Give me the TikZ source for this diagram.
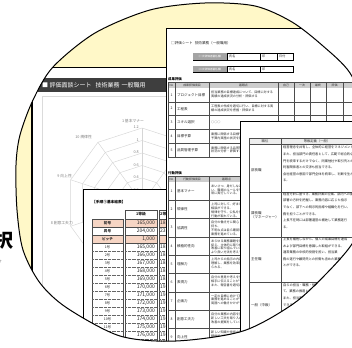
\documentclass[tikz,border=0pt]{standalone}
\usepackage{fontspec}
\setmainfont{Noto Sans CJK JP}
\definecolor{bgyellow}{HTML}{FFF8C8}
\definecolor{peach}{HTML}{F6D5C4}
\definecolor{hdrdark}{HTML}{3E3E3E}
\definecolor{thgray}{HTML}{CDCDCD}
\definecolor{lblgray}{HTML}{A4A4A4}
\begin{document}
\begin{tikzpicture}[x=1pt,y=-1pt,
  sheet/.style={draw=black,line width=0.8pt,fill=white},
  grid/.style={draw=black!70,line width=0.35pt},
  tx/.style={font=\fontsize{3.1}{3.8}\selectfont,inner sep=0pt,align=left,anchor=north west,text=black!85},
  txd/.style={font=\fontsize{3.2}{6.6}\selectfont,inner sep=0pt,align=left,anchor=north west,text=black!90},
  lb/.style={font=\fontsize{3.5}{4.2}\selectfont,inner sep=0pt,text=black!85},
  hd/.style={font=\fontsize{2.9}{3.4}\selectfont,inner sep=0pt,text=black!80},
  rl/.style={font=\fontsize{3.8}{4.5}\selectfont,inner sep=0pt,text=black!50},
  num/.style={font=\fontsize{5}{6}\selectfont,inner sep=0pt,anchor=east,text=black!85},
  radargrid/.style={draw=black!16,line width=0.45pt}]
\useasboundingbox (0,0) rectangle (352,347);
\fill[white] (0,0) rectangle (352,347);
\node[font=\bfseries\fontsize{19}{19}\selectfont,anchor=east,inner sep=0pt] (kanji) at (13.5,240) {択};
\node[font=\fontsize{4}{4}\selectfont,anchor=east,inner sep=0pt,text=black!60] (note) at (2.2,262) {す};
\begin{scope}
\clip plot[smooth cycle] coordinates {(16,165) (20,135) (33,100) (53,67) (95,33) (150,10) (205,3) (255,6) (292,22) (323,46) (350,73) (368,115) (374,165) (368,210) (352,244) (326,274) (293,304) (243,331) (176,341) (120,336) (67,308) (40,283) (23,250) (17,210)};
\fill[bgyellow] (0,0) rectangle (352,347);
% ================= Doc A (radar sheet)
\path[sheet] (32,67) rectangle (300,420);
\draw[line width=1.4pt] (32,67) -- (32,420);
\fill[hdrdark] (38,78) rectangle (300,92);
\node[anchor=west,inner sep=0pt,text=white,font=\fontsize{6}{7}\selectfont] (titleA) at (42,85.3) {■ 評価面談シート\hspace{4pt}技術業務\hspace{2pt}一般職用};
\draw[black!14,line width=0.5pt] (42,96) rectangle (300,420);
\begin{scope}[shift={(142,203)},yscale=-1]
 \foreach \k in {1,...,6}{
   \pgfmathsetmacro\rr{12.5*\k}
   \draw[radargrid] (90:\rr) \foreach \a in {126,162,...,414}{ -- (\a:\rr)} -- cycle;
 }
 \foreach \a in {90,126,...,414}{ \draw[radargrid] (0,0) -- (\a:75); }
\end{scope}
\node[rl,anchor=east] (r12) at (139,127) {1.2};
\node[rl,anchor=east] (r10) at (139,140) {1};
\node[rl,anchor=east] (r08) at (139,152.5) {0.8};
\node[rl,anchor=east] (r06) at (139,165) {0.6};
\node[rl,anchor=east] (r04) at (139,177.5) {0.4};
\node[rl,anchor=east] (r02) at (139,190) {0.2};
\node[rl] (ax1) at (133,121) {1 基本マナー};
\node[rl,anchor=east] (ax10) at (92,137.5) {10 規律性};
\node[rl,anchor=east] (ax9) at (72,176) {9 向上性};
\node[rl,anchor=east] (ax8) at (73,223.5) {8 創意工夫力};
% ================= Doc C (salary table)
\path[sheet] (83,189) rectangle (230,420);
\begin{scope}
\clip (83,189) rectangle (166,420);
\node[anchor=west,inner sep=0pt,font=\bfseries\fontsize{3.7}{4}\selectfont] (titleC) at (92,202) {【手順①基本給表】};
\draw[grid] (125,210) rectangle (157,219);
\draw[grid] (159,210) rectangle (191,219);
\node[lb,font=\bfseries\fontsize{3.8}{4}\selectfont] (g1) at (141,214.5) {1等級};
\node[lb,font=\bfseries\fontsize{3.8}{4}\selectfont,anchor=west] (g2) at (160,214.5) {2等};
\foreach \y in {219,235}{
  \fill[peach] (92,\y) rectangle (123,\y+8);
  \fill[peach] (125,\y) rectangle (157,\y+8);
  \fill[peach] (159,\y) rectangle (191,\y+8);
}
\foreach \y in {219,227,235}{
  \draw[grid] (92,\y) rectangle (123,\y+8);
  \draw[grid] (125,\y) rectangle (157,\y+8);
  \draw[grid] (159,\y) rectangle (191,\y+8);
}
\node[lb,font=\bfseries\fontsize{3.6}{4}\selectfont] (h1) at (107.5,223) {初号};
\node[lb,font=\bfseries\fontsize{3.6}{4}\selectfont] (h2) at (107.5,231) {昇号};
\node[lb,font=\bfseries\fontsize{3.6}{4}\selectfont] (h3) at (107.5,239) {ピッチ};
\node[num] (h1a) at (155,223) {165,000};
\node[num] (h2a) at (155,231) {204,000};
\node[num] (h3a) at (155,239) {1,000};
\node[num,anchor=west] (h1b) at (160,223) {18};
\node[num,anchor=west] (h2b) at (160,231) {23};
\draw[grid] (92,243) rectangle (123,360);
\draw[grid] (125,243) rectangle (157,360);
\draw[grid] (159,243) rectangle (191,360);
\foreach \k in {1,...,13}{
  \draw[black!60,line width=0.3pt,densely dotted] (92,243+8*\k) -- (123,243+8*\k) (125,243+8*\k) -- (157,243+8*\k) (159,243+8*\k) -- (191,243+8*\k);
  \pgfmathtruncatemacro\va{164+\k}
  \pgfmathtruncatemacro\vb{(184+\k)/10}
  \node[lb] (lab\k) at (107.5,239+8*\k) {\k 号};
  \node[num] (na\k) at (155,239+8*\k) {\va,000};
  \node[num,anchor=west] (nb\k) at (160,239+8*\k) {\vb};
}
\end{scope}
% ================= Doc B (evaluation sheet)
\path[sheet] (166,28) rectangle (420,420);
\node[anchor=west,inner sep=0pt,font=\fontsize{3.6}{4}\selectfont,text=black!85] (titleB) at (171,43) {□評価シート\hspace{2pt}技術業務（一般職用）};
\draw[line width=0.6pt,fill=white] (193,53) rectangle (293,60);
\fill[lblgray] (193.3,53.3) rectangle (227,59.7);
\draw[line width=0.4pt] (227,53) -- (227,60) (260,53) -- (260,60) (277,53) -- (277,60);
\node[font=\fontsize{2.6}{3}\selectfont,inner sep=0pt,text=white] (s1) at (210,56.5) {（一次評価者署名欄）};
\node[tx,anchor=west] (s1a) at (229,56.5) {氏名};
\node[tx,anchor=west] (s1b) at (262,56.5) {印};
\node[tx,anchor=west] (s1c) at (279,56.5) {日付};
\draw[line width=0.6pt,fill=white] (193,66) rectangle (293,72.5);
\fill[lblgray] (193.3,66.3) rectangle (227,72.2);
\draw[line width=0.4pt] (227,66) -- (227,72.5) (260,66) -- (260,72.5);
\node[font=\fontsize{2.6}{3}\selectfont,inner sep=0pt,text=white] (s2) at (210,69.3) {（二次評価者署名欄）};
\node[tx,anchor=west] (s2a) at (229,69.3) {氏名};
\node[tx,anchor=west] (s2b) at (262,69.3) {印};
% table 1
\node[anchor=west,inner sep=0pt,font=\bfseries\fontsize{3.4}{4}\selectfont] (sec1) at (168,79) {成果評価};
\fill[thgray] (168,82) rectangle (420,88);
\draw[grid] (168,82) rectangle (420,157);
\foreach \x in {175,209,278,294,310,326,343,360}{ \draw[grid] (\x,82) -- (\x,157); }
\foreach \i in {1,...,4}{ \draw[grid] (168,88+13.8*\i) -- (420,88+13.8*\i); }
\node[hd] (t1h0) at (171.5,85) {No};
\node[hd] (t1h1) at (192,85) {成果評価項目};
\node[hd] (t1h2) at (243.5,85) {着眼点};
\node[hd] (t1h3) at (286,85) {自己};
\node[hd] (t1h4) at (302,85) {一次};
\node[hd] (t1h5) at (318,85) {最終};
\node[hd] (t1h6) at (334.5,85) {評価};
\foreach \i/\lab in {1/プロジェクト目標,2/工程表,3/スキル選択,4/目標予算,5/品質管理予算}{
  \node[lb] (t1n\i) at (171.5,88+13.8*\i-6.9) {\i};
  \node[lb,anchor=west] (t1l\i) at (177,88+13.8*\i-6.9) {\lab};
}
\node[tx] (t1d1) at (211,91) {担当業務の目標達成について、目標に対する\\実績の達成状況の分析・評価する};
\node[tx] (t1d2) at (211,104.8) {工程表の作成を適切に行い、目標に対する実\\績の達成状況を把握・評価する};
\node[tx] (t1d3) at (211,120.5) {○○○};
\begin{scope}
\clip (209,121) rectangle (240,160);
\node[tx] (t1d4) at (211,132.4) {業務に関係する目標予算の達成状況\\予算内実施の状況を評価する};
\node[tx] (t1d5) at (211,146.2) {業務に関係する品質管理の達成\\状況の分析・評価する};
\end{scope}
% table 2
\node[anchor=west,inner sep=0pt,font=\bfseries\fontsize{3.4}{4}\selectfont] (sec2) at (168,173) {行動評価};
\fill[thgray] (168,176) rectangle (420,182);
\draw[grid] (168,176) rectangle (420,360);
\foreach \x in {175,209,260}{ \draw[grid] (\x,176) -- (\x,360); }
\foreach \i in {1,...,9}{ \draw[grid] (168,182+18.3*\i) -- (420,182+18.3*\i); }
\node[hd] (t2h0) at (171.5,179) {No};
\node[hd] (t2h1) at (192,179) {行動評価項目};
\node[hd,anchor=west] (t2h2) at (222,179) {着眼点};
\foreach \i/\lab in {1/基本マナー,2/規律性,3/協調性,4/積極的性向,5/理解力,6/表現力,7/企画力,8/創意工夫力,9/向上性}{
  \node[lb] (t2n\i) at (171.5,182+18.3*\i-9.15) {\i};
  \node[lb,anchor=west] (t2l\i) at (177,182+18.3*\i-9.15) {\lab};
}
\begin{scope}
\clip (209,176) rectangle (240,360);
\node[tx] (t2d1) at (211,184.5) {あいさつ、身だしなみ、言葉遣\\い、職場のルールを守ることを\\常に実行している。};
\node[tx] (t2d2) at (211,202.8) {上司に対して、好ましい報告・連絡\\相談ができる。\\規律を守り、公私を分けた\\行動が取れている。};
\node[tx] (t2d3) at (211,221.1) {自分の働き方に関心・意欲を\\持ち、\\不明な点は自ら確認して\\業務を進めている。};
\node[tx] (t2d4) at (211,239.4) {あらゆる業務課題を前向きに\\捉え、主体的に取り組んで\\改善に取り組んでいる。\\より良い方法を考えている。};
\node[tx] (t2d5) at (211,257.7) {上司からの指示の内容を的確に\\理解し、業務を効率良く進め\\られる。};
\node[tx] (t2d6) at (211,276) {自分の意見や考えを分かりやすく\\相手に伝えることができる。\\また、報告書を適切に作成できる。};
\node[tx] (t2d7) at (211,294.3) {一定の目標に向けて計画的に\\業務を進めることができる。\\周囲への働きかけができる。};
\node[tx] (t2d8) at (211,312.6) {自分の業務の内容を見直し、\\新しい工夫を取り入れている。\\改善の提案をしている。};
\node[tx] (t2d9) at (211,330.9) {新しい知識や技術の習得に\\積極的に取り組んでいる。};
\end{scope}
% ================= Doc D (grade definitions)
\path[sheet] (240,121) rectangle (420,420);
\fill[black!7] (249,138) rectangle (420,144);
\draw[grid] (249,138) rectangle (420,400);
\draw[grid] (281,138) -- (281,400);
\foreach \y in {144,192,237,282,328}{ \draw[grid] (249,\y) -- (420,\y); }
\node[hd,font=\fontsize{3.3}{4}\selectfont] (dh1) at (265,141) {職位};
\node[hd,font=\fontsize{3.3}{4}\selectfont] (dh2) at (317,141) {等級定義（一般）};
\node[lb,anchor=west] (dl1) at (251,170) {部長職};
\node[lb,anchor=west,align=left] (dl2) at (251,215) {課長職\\（マネージャー）};
\node[lb,anchor=west] (dl3) at (251,259) {主任職};
\node[lb,anchor=west] (dl4) at (251,305) {一般（中級）};
\node[txd] (dd1) at (283,146) {経営理念を共有し、全体的に経営をマネジメントする。\\また、担当部門の責任者として、広範で総合的な部\\門を統率するだけでなく、同業他社や取引先との\\利害関係者との交渉も担当できる。\\会社経営の意図で部門全体を統率し、判断を生か\\る。};
\node[txd] (dd2) at (283,192.5) {経営方針に基づき、業務計画の立案、部内への展開\\部署の方針を把握し、業務内容に応じた指示\\でなく、部下への明示的指導や組織化を行い、\\務を担うことができる。\\上長不在時には部署運営の補佐して業務遂行\\る。};
\node[txd] (dd3) at (283,237.5) {上長を補佐しながら、個人の成果目標を達成\\および部門目標を意識した取組ができる。\\通常業務の中核的役割を担い、担当業\\務の遂行や顧問先との折衝も含めた業務\\とができる。};
\node[txd] (dd4) at (283,283.5) {自らの担当・職務・役割を理解し\\て、業務の推進と改善を図る。\\また、担当業務を確実に遂行\\できる。\\る。};
\end{scope}
\draw[line width=1pt] plot[smooth cycle] coordinates {(16,165) (20,135) (33,100) (53,67) (95,33) (150,10) (205,3) (255,6) (292,22) (323,46) (350,73) (368,115) (374,165) (368,210) (352,244) (326,274) (293,304) (243,331) (176,341) (120,336) (67,308) (40,283) (23,250) (17,210)};
\end{tikzpicture}
\end{document}
